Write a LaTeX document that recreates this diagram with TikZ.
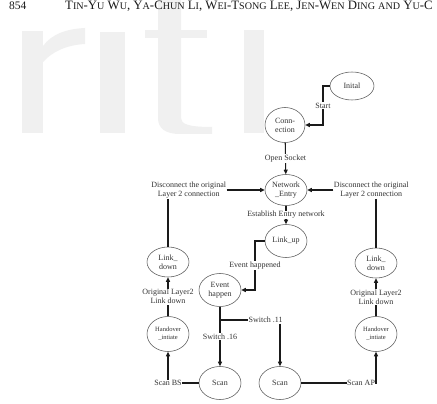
\documentclass[tikz,border=0pt]{standalone}
\usepackage{fontspec}
\setmainfont{Liberation Serif}
\usepackage{xcolor}
\usepackage{tikz}
\usetikzlibrary{arrows.meta,positioning,shapes.geometric,calc}
\definecolor{ink}{HTML}{1A1A1A}
\definecolor{rim}{HTML}{5A5A5A}
\definecolor{txt}{HTML}{333333}
\definecolor{wmgray}{HTML}{F0F0F0}
\newcommand\hsc[1]{{\fontsize{10.1}{11}\selectfont #1}}
\tikzset{
  st/.style   ={ellipse,draw=rim,line width=0.55pt,minimum width=42pt,minimum height=33pt,
                inner sep=0pt,align=center,text=txt,font=\fontsize{8}{9}\selectfont},
  lbl/.style  ={fill=white,inner sep=0.5pt,align=center,text=txt,font=\fontsize{8}{9}\selectfont},
  head/.style ={anchor=base west,inner sep=0pt,text=ink,font=\fontsize{12.8}{14}\selectfont},
  flow/.style ={-{Triangle[length=4.5pt,width=4pt]},line width=1.1pt,draw=ink},
  wire/.style ={line width=1.1pt,draw=ink},
  wmark/.style={fill=wmgray,draw=none}
}

\begin{document}
\begin{tikzpicture}[x=1pt,y=-1pt]
    \useasboundingbox (0,0) rectangle (437,404);
    \fill[white] (0,0) rectangle (437,404);
    % watermark
    \fill[wmark] (22,31) rectangle (43,133);
    \fill[wmark] (43,46) .. controls (52,34) and (66,29) .. (85,28) -- (85,44)
                 .. controls (66,45) and (52,52) .. (43,62) -- cycle;
    \fill[wmark] (100,32) rectangle (125,133);
    \fill[wmark] (158,0) -- (181,0) -- (181,118) .. controls (181,124) and (188,127) .. (212,127)
                 -- (212,134) -- (180,134) .. controls (165,134) and (158,128) .. (158,118) -- cycle;
    \fill[wmark] (145,30) rectangle (207,38);
    \fill[wmark] (244,30) rectangle (264,133);
    % running head
    \node[head,font=\fontsize{11.5}{12}\selectfont] (pgno) at (9,9.6) {854};
    \node[head] (runhead) at (65,9.6) {T\hsc{IN}-Y\hsc{U} W\hsc{U}, Y\hsc{A}-C\hsc{HUN} L\hsc{I},
      W\hsc{EI}-T\hsc{SONG} L\hsc{EE}, J\hsc{EN}-W\hsc{EN} D\hsc{ING} \hsc{AND} Y\hsc{U}-C};
    % states
    \node[st,minimum width=44pt,minimum height=28pt] (init) at (352,86) {Inital};
    \node[st,minimum width=40pt,minimum height=35pt] (conn) at (285,125) {Conn-\\ection};
    \node[st,minimum height=31pt] (entry) at (286,190) {Network\\\_Entry};
    \node[st] (linkup) at (286,241) {Link\_up};
    \node[st,minimum height=30pt] (ldl) at (168,262) {Link\_\\down};
    \node[st,minimum height=30pt] (ldr) at (376,263) {Link\_\\down};
    \node[st] (event) at (220,290) {Event\\happen};
    \node[st,minimum height=35pt,font=\fontsize{6.5}{8}\selectfont] (hol) at (168,334) {Handover\\\_intiate};
    \node[st,minimum height=35pt,font=\fontsize{6.5}{8}\selectfont] (hor) at (376,334) {Handover\\\_intiate};
    \node[st] (scanl) at (220,383) {Scan};
    \node[st] (scanm) at (280,383) {Scan};
    \node[lbl,left=38pt of entry] (discl) {Disconnect the original\\Layer 2 connection};
    \node[lbl,right=26pt of entry] (discr) {Disconnect the original\\Layer 2 connection};
    % transitions
    \coordinate (startbend) at (323,86);
    \draw[flow] (init.west) -- (startbend) |- node[lbl,pos=0.25] {Start} (conn.east);
    \draw[flow] (conn) -- node[lbl] {Open Socket} (entry);
    \draw[flow] (discl) -- (entry);
    \draw[flow] (discr) -- (entry);
    \draw[wire] (ldl.north |- discl.south) -- (ldl.north);
    \draw[wire] (ldr.north |- discr.south) -- (ldr.north);
    \draw[flow] (entry) -- node[lbl] {Establish Entry network} (linkup);
    \coordinate (evbend) at (255,241);
    \draw[flow] (linkup.west) -- (evbend) |- node[lbl,pos=0.25] {Event happened} (event.east);
    \draw[flow] (event) -- node[lbl] {Switch .16} (scanl);
    \coordinate (swbr) at (220,320);
    \node[lbl,right=28pt of swbr] (sw11) {Switch .11};
    \draw[wire] (swbr) -- (sw11);
    \draw[flow] (sw11.south -| scanm.north) -- (scanm.north);
    \draw[flow] (scanl.west) -| node[lbl,pos=0.5] {Scan BS} (hol.south);
    \draw[flow] (scanm.east) -| node[lbl,pos=0.5,anchor=east] {Scan AP} (hor.south);
    \draw[flow] (hol) -- node[lbl] {Original Layer2\\Link down} (ldl);
    \draw[flow] (hor) -- node[lbl] {Original Layer2\\Link down} (ldr);
\end{tikzpicture}
\end{document}
